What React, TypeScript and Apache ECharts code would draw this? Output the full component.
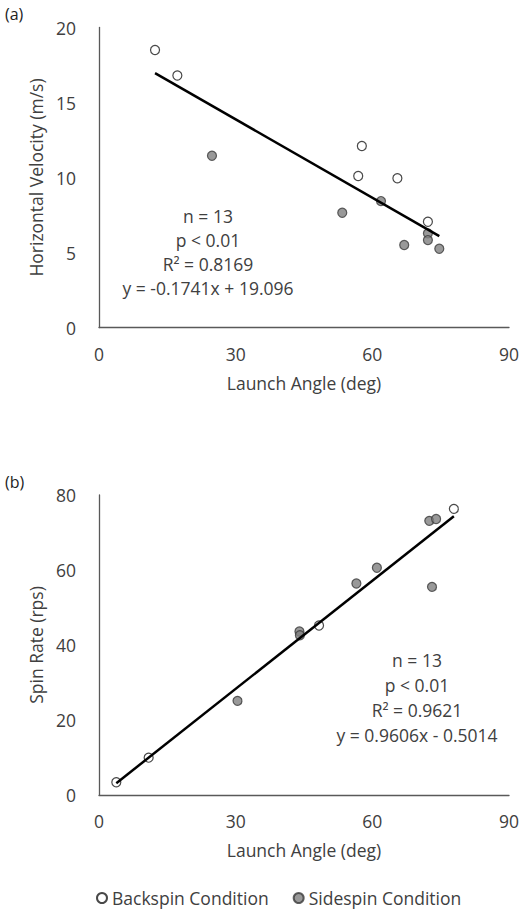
import React, { useEffect, useRef } from 'react';
import * as echarts from 'echarts';

// Panel (a): Launch angle (deg) vs horizontal velocity (m/s)
const angleABack = [12.3, 17.2, 57.7, 56.9, 65.5, 72.2];
const velABack = [18.5, 16.8, 12.1, 10.1, 9.95, 7.05];
const angleASide = [24.8, 61.9, 53.4, 72.2, 72.2, 67.0, 74.7];
const velASide = [11.45, 8.43, 7.65, 6.28, 5.83, 5.5, 5.25];
const slopeA = -0.1741;
const interceptA = 19.096;
const statsA = ['n = 13', 'p < 0.01', 'R² = 0.8169', 'y = -0.1741x + 19.096'];

// Panel (b): Launch angle (deg) vs spin rate (rps)
const angleBBack = [3.8, 10.9, 48.3, 77.9];
const spinBBack = [3.4, 9.95, 45.2, 76.3];
const angleBSide = [30.4, 44.0, 44.1, 56.5, 61.0, 72.5, 74.0, 73.1];
const spinBSide = [25.1, 43.6, 42.6, 56.4, 60.6, 73.1, 73.6, 55.5];
const slopeB = 0.9606;
const interceptB = -0.5014;
const statsB = ['n = 13', 'p < 0.01', 'R² = 0.9621', 'y = 0.9606x - 0.5014'];

const xTicks = { min: 0, max: 90, interval: 30 };
const yTicksA = { min: 0, max: 20, interval: 5 };
const yTicksB = { min: 0, max: 80, interval: 20 };

const xTitle = 'Launch Angle (deg)';
const yTitleA = 'Horizontal Velocity (m/s)';
const yTitleB = 'Spin Rate (rps)';
const backName = 'Backspin Condition';
const sideName = 'Sidespin Condition';

const FONT = '"Open Sans"';
const TEXT = '#404040';
const AXIS = '#595959';
const FS = 17.5;

const zip = (xs: number[], ys: number[]) => xs.map((x, i) => [x, ys[i]]);
const fitLine = (xs: number[], slope: number, intercept: number) => {
  const lo = Math.min(...xs);
  const hi = Math.max(...xs);
  return [
    [lo, slope * lo + intercept],
    [hi, slope * hi + intercept],
  ];
};

export default function App() {
  const ref = useRef<HTMLDivElement>(null);
  useEffect(() => {
    if (!ref.current) return;
    const chart = echarts.init(ref.current, undefined, { renderer: 'svg' });
    const textStyle = { fontFamily: 'Open Sans', fontSize: FS, color: TEXT };
    const mkX = (gi: number) => ({
      type: 'value',
      gridIndex: gi,
      ...xTicks,
      axisLine: { show: true, lineStyle: { color: AXIS, width: 1.3 } },
      axisTick: { show: false },
      splitLine: { show: false },
      axisLabel: { ...textStyle, margin: 17 },
      name: xTitle,
      nameLocation: 'middle',
      nameGap: 46,
      nameTextStyle: textStyle,
    });
    const mkY = (gi: number, ticks: any, title: string) => ({
      type: 'value',
      gridIndex: gi,
      ...ticks,
      axisLine: { show: true, lineStyle: { color: AXIS, width: 1.3 } },
      axisTick: { show: false },
      splitLine: { show: false },
      axisLabel: { ...textStyle, margin: 23 },
      name: title,
      nameLocation: 'middle',
      nameGap: 50,
      nameTextStyle: textStyle,
    });
    const backStyle = { color: '#ffffff', borderColor: '#1a1a1a', borderWidth: 1.2 };
    const sideStyle = { color: '#7f7f7f', borderColor: '#3a3a3a', borderWidth: 1.2 };
    const allA = [...angleABack, ...angleASide];
    const allB = [...angleBBack, ...angleBSide];
    const option: any = {
      animation: false,
      textStyle: { fontFamily: 'Open Sans' },
      grid: [
        { left: 99, top: 27.5, width: 413, height: 300 },
        { left: 99, top: 495, width: 413, height: 300 },
      ],
      xAxis: [mkX(0), mkX(1)],
      yAxis: [mkY(0, yTicksA, yTitleA), mkY(1, yTicksB, yTitleB)],
      legend: {
        left: 91,
        top: 884,
        itemGap: 24,
        itemWidth: 10,
        itemHeight: 10,
        icon: 'circle',
        textStyle: { ...textStyle },
        data: [backName, sideName],
      },
      series: [
        { type: 'scatter', name: backName, xAxisIndex: 0, yAxisIndex: 0, symbolSize: 9, itemStyle: backStyle, data: zip(angleABack, velABack), z: 2 },
        { type: 'scatter', name: sideName, xAxisIndex: 0, yAxisIndex: 0, symbolSize: 9, itemStyle: sideStyle, data: zip(angleASide, velASide), z: 2 },
        { type: 'line', xAxisIndex: 0, yAxisIndex: 0, symbol: 'none', lineStyle: { color: '#000', width: 2.5 }, data: fitLine(allA, slopeA, interceptA), z: 3 },
        { type: 'scatter', name: backName, xAxisIndex: 1, yAxisIndex: 1, symbolSize: 9, itemStyle: backStyle, data: zip(angleBBack, spinBBack), z: 2 },
        { type: 'scatter', name: sideName, xAxisIndex: 1, yAxisIndex: 1, symbolSize: 9, itemStyle: sideStyle, data: zip(angleBSide, spinBSide), z: 2 },
        { type: 'line', xAxisIndex: 1, yAxisIndex: 1, symbol: 'none', lineStyle: { color: '#000', width: 2.5 }, data: fitLine(allB, slopeB, interceptB), z: 3 },
      ],
      graphic: [
        { type: 'text', left: 5, top: 6, style: { text: '(a)', font: `16px ${FONT}`, fill: '#222' } },
        { type: 'text', left: 5, top: 474, style: { text: '(b)', font: `16px ${FONT}`, fill: '#222' } },
        {
          type: 'text', x: 208, y: 204,
          style: { text: statsA.join('\n'), font: `${FS}px ${FONT}`, fill: TEXT, align: 'center', verticalAlign: 'top', lineHeight: 24 },
        },
        {
          type: 'text', x: 417, y: 647.5,
          style: { text: statsB.join('\n'), font: `${FS}px ${FONT}`, fill: TEXT, align: 'center', verticalAlign: 'top', lineHeight: 25 },
        },
      ],
    };
    chart.setOption(option);
    return () => chart.dispose();
  }, []);
  return (
    <div
      ref={ref}
      style={{ position: 'fixed', left: 0, top: 0, width: 522, height: 916, background: '#fff' }}
    />
  );
}
